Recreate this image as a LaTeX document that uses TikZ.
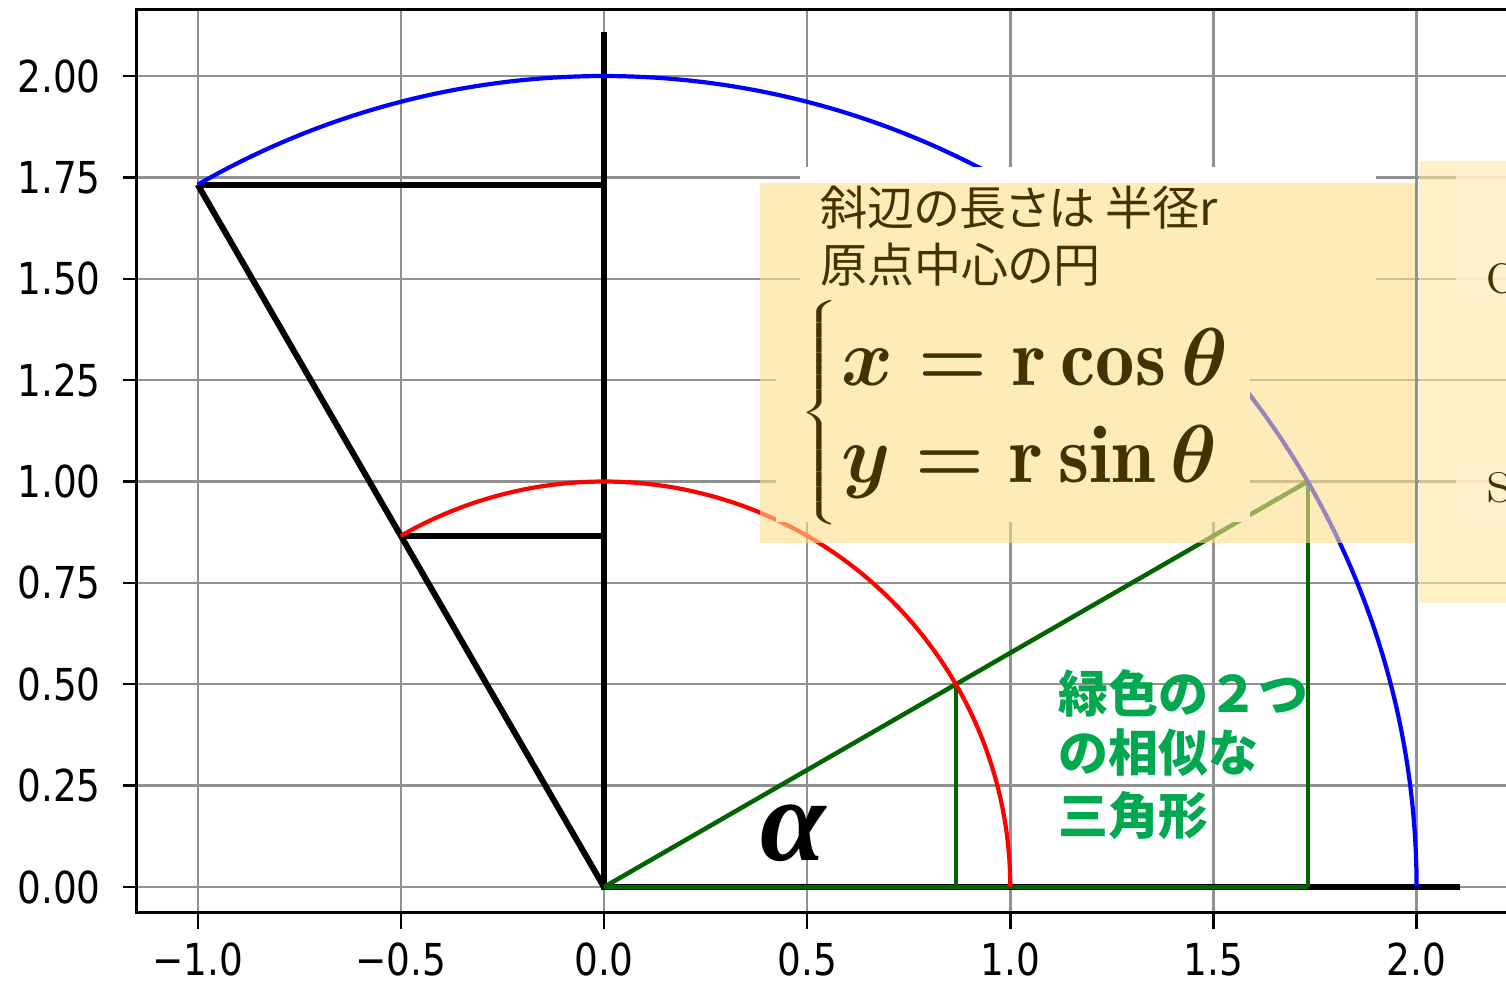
\RequirePackage{fix-cm}
\documentclass[tikz,border=0pt]{standalone}
\usepackage{fontspec}
\usepackage{amsmath}
\usepackage{graphicx}
\newfontfamily\tickfont{DejaVu Sans}
\newfontfamily\jpfont[RawFeature=+palt]{Noto Sans CJK JP}
\newfontfamily\jpgfont{Noto Sans CJK JP}
\newfontfamily\alphafont{Liberation Serif}
\definecolor{gridgray}{RGB}{145,145,145}
\definecolor{plotblue}{RGB}{0,0,255}
\definecolor{plotred}{RGB}{255,0,0}
\definecolor{plotgreen}{RGB}{0,100,0}
\definecolor{notegreen}{RGB}{0,168,80}
\definecolor{notebrown}{RGB}{68,50,0}
\definecolor{boxsolid}{RGB}{255,235,185}
\definecolor{boxsemi}{RGB}{255,222,140}
\definecolor{rboxsemi}{RGB}{255,230,163}
\definecolor{rboxpatch}{RGB}{255,242,205}
\begin{document}
\begin{tikzpicture}[x=1pt,y=-1pt,
  gridline/.style={draw=gridgray,line width=2.4pt},
  spine/.style={draw=black,line width=3pt},
  tickmark/.style={draw=black,line width=2.4pt},
  ticklabel/.style={inner sep=0pt,font=\tickfont\fontsize{44}{44}\selectfont},
  blackline/.style={draw=black,line width=6pt},
  greenline/.style={draw=plotgreen,line width=4.5pt},
  bluecurve/.style={draw=plotblue,line width=4.2pt},
  redcurve/.style={draw=plotred,line width=4.2pt},
  notetext/.style={inner sep=0pt,text=notebrown,font=\jpfont\fontsize{47}{47}\selectfont},
  greentext/.style={inner sep=0pt,text=notegreen,font=\jpgfont\bfseries\fontsize{50}{50}\selectfont},
  parttext/.style={inner sep=0pt,text=notebrown,font=\rmfamily\fontsize{68}{68}\selectfont},
  eqtext/.style={inner sep=0pt,text=notebrown,font=\fontsize{82}{82}\selectfont\boldmath},
]
\useasboundingbox (0,0) rectangle (1506,982);
\fill[white] (0,0) rectangle (1506,982);

% grid
\foreach \k in {-1,-0.5,0,0.5,1,1.5,2}
  \draw[gridline] ({604+406.3*\k},10) -- ({604+406.3*\k},912);
\foreach \k in {0,0.25,0.5,0.75,1,1.25,1.5,1.75,2}
  \draw[gridline] (136,{887-405.5*\k}) -- (1506,{887-405.5*\k});

% ticks and labels
\foreach \k/\t [count=\i] in {0/0.00,0.25/0.25,0.5/0.50,0.75/0.75,1/1.00,1.25/1.25,1.5/1.50,1.75/1.75,2/2.00} {
  \draw[tickmark] (123,{887-405.5*\k}) -- (136,{887-405.5*\k});
  \node[ticklabel,anchor=east] (yl\i) at (101,{887-405.5*\k}) {\scalebox{0.85}[1]{\t}};
}
\foreach \k/\t [count=\i] in {-1/−1.0,-0.5/−0.5,0/0.0,0.5/0.5,1/1.0,1.5/1.5,2/2.0} {
  \draw[tickmark] ({604+406.3*\k},912) -- ({604+406.3*\k},929);
  \node[ticklabel,anchor=north] (xl\i) at ({604+406.3*\k},943) {\scalebox{0.85}[1]{\t}};
}

% spines
\draw[spine] (1506,10) -- (136,10) -- (136,912) -- (1506,912);

% data
\begin{scope}[shift={(604,887)}, x=406.3pt, y=405.5pt]
  \coordinate (O) at (0,0);
  \coordinate (B1) at (-1,1.7321);
  \coordinate (B1y) at (0,1.7321);
  \coordinate (R1) at (-0.5,0.8660);
  \coordinate (R1y) at (0,0.8660);
  \coordinate (Ytop) at (0,2.1);
  \coordinate (Xend) at (2.1,0);
  \coordinate (P) at (0.8660,0.5);
  \coordinate (Px) at (0.8660,0);
  \coordinate (Q) at (1.7321,1);
  \coordinate (Qx) at (1.7321,0);
  \draw[blackline] (B1) -- (O);
  \draw[blackline] (B1) -- (B1y);
  \draw[blackline] (R1) -- (R1y);
  \draw[blackline,line cap=rect] (O) -- (Ytop);
  \draw[blackline,line cap=rect] (O) -- (Xend);
  \draw[greenline] (O) -- (Q);
  \draw[greenline] (O) -- (Qx);
  \draw[greenline,line width=4pt] (Px) -- (P);
  \draw[greenline,line width=4pt] (Qx) -- (Q);
  \draw[redcurve] plot[domain=120:0,samples=90,smooth] ({cos(\x)},{sin(\x)});
  \draw[bluecurve] plot[domain=120:0,samples=120,smooth] ({2*cos(\x)},{2*sin(\x)});
\end{scope}

% pasted note boxes
\fill[boxsemi,fill opacity=0.6] (760,183) rectangle (1415,543);
\fill[white] (800,167) rectangle (1376,183);
\fill[boxsolid] (800,183) rectangle (1376,290);
\fill[boxsolid] (776,290) rectangle (1250,522);
\fill[rboxsemi,fill opacity=0.6] (1419,161) rectangle (1506,603);
\fill[rboxpatch,fill opacity=0.8] (1456,165) rectangle (1506,300);
\fill[rboxpatch,fill opacity=0.8] (1456,462) rectangle (1506,522);

% texts
\node[notetext,anchor=base west] (t1) at (820,225) {斜辺の長さは 半径r};
\node[notetext,anchor=base west] (t2) at (820,282) {原点中心の円};
\node[inner sep=0pt,text=notebrown,font=\fontsize{82}{82}\selectfont] (brace) at (820,413)
  {\scalebox{1.8}[1]{$\left\{\vrule height 92pt depth 92pt width 0pt\right.$}};
\node[eqtext,anchor=base west] (eq1) at (841,385) {\scalebox{0.96}[1]{$x = \mathrm{r}\cos\theta$}};
\node[eqtext,anchor=base west] (eq2) at (841,482) {\scalebox{0.96}[1]{$y = \mathrm{r}\sin\theta$}};
\node[inner sep=0pt,font=\alphafont\bfseries\itshape\fontsize{118}{118}\selectfont] (alpha) at (793,833) {α};
\node[greentext,anchor=base west] (g1) at (1058,712) {緑色の２つ};
\node[greentext,anchor=base west] (g2) at (1058,771) {の相似な};
\node[greentext,anchor=base west] (g3) at (1058,834) {三角形};
\node[parttext,anchor=base west] (pc) at (1486,293) {c};
\node[parttext,anchor=base west] (ps) at (1487,502) {s};
\end{tikzpicture}
\end{document}
